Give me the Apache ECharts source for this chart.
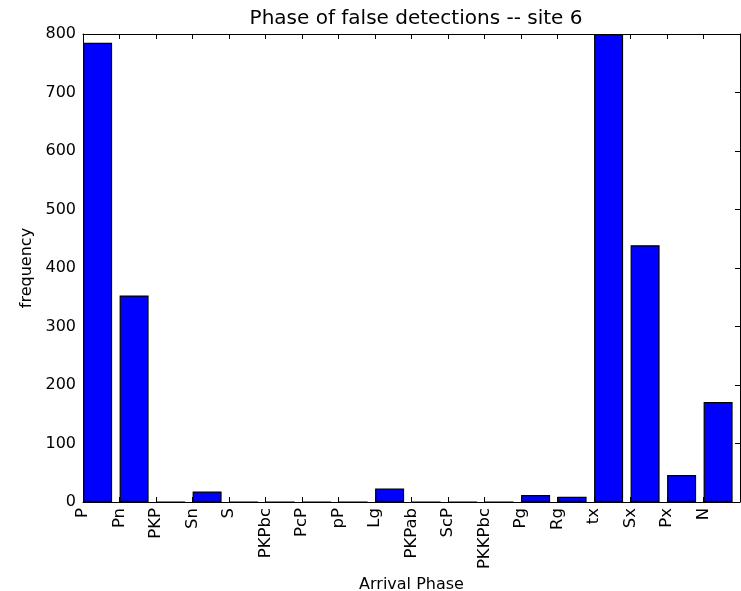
<!DOCTYPE html>
<html>
<head>
<meta charset="utf-8">
<script src="https://cdn.jsdelivr.net/npm/echarts@6/dist/echarts.min.js"></script>
<style>
  html, body { margin: 0; padding: 0; background: #fff; }
  #chart { width: 741px; height: 591px; }
</style>
</head>
<body>
<div id="chart"></div>
<script>
// Arrival phases and how often each was a false detection at site 6
const phases = ['P', 'Pn', 'PKP', 'Sn', 'S', 'PKPbc', 'PcP', 'pP', 'Lg', 'PKPab',
                'ScP', 'PKKPbc', 'Pg', 'Rg', 'tx', 'Sx', 'Px', 'N'];
const counts = [785, 353, 0, 18, 0, 0, 0, 0, 23, 0,
                0, 0, 12, 9, 800, 439, 46, 171];
const yTicks = [0, 100, 200, 300, 400, 500, 600, 700, 800];

// bars sit on [i, i + 0.8], the tick marks the left edge
const barData = counts.map((v, i) => [i + 0.4, v]);

const font = 'DejaVu Sans';
const chart = echarts.init(document.getElementById('chart'));

const frameLine = { show: true, onZero: false, lineStyle: { color: '#000', width: 1 } };
const inTicks = { show: true, inside: true, length: 5, lineStyle: { color: '#000' } };

chart.setOption({
  animation: false,
  title: {
    text: 'Phase of false detections -- site 6',
    left: 411, top: 4, textAlign: 'center',
    textStyle: { fontFamily: font, fontSize: 20, fontWeight: 'normal', color: '#000' }
  },
  grid: {
    left: 83, right: 1, top: 34, bottom: 89,
    containLabel: false, outerBoundsMode: 'none'
  },
  xAxis: [{
    type: 'value', min: 0, max: phases.length, interval: 1,
    position: 'bottom',
    axisLine: frameLine, axisTick: inTicks, splitLine: { show: false },
    axisLabel: {
      rotate: 90, margin: 6, fontFamily: font, fontSize: 16.5, color: '#000',
      formatter: v => phases[v] !== undefined ? phases[v] : ''
    },
    name: 'Arrival Phase', nameLocation: 'middle', nameGap: 73,
    nameTextStyle: { fontFamily: font, fontSize: 16, color: '#000' }
  }, {
    type: 'value', min: 0, max: phases.length, interval: 1,
    position: 'top',
    axisLine: frameLine, axisTick: inTicks, axisLabel: { show: false },
    splitLine: { show: false }
  }],
  yAxis: [{
    type: 'value', min: yTicks[0], max: yTicks[yTicks.length - 1], interval: 100,
    position: 'left',
    axisLine: frameLine, axisTick: inTicks, splitLine: { show: false },
    axisLabel: { margin: 7, fontFamily: font, fontSize: 16, color: '#000' },
    name: 'frequency', nameLocation: 'middle', nameGap: 41,
    nameTextStyle: { fontFamily: font, fontSize: 16, color: '#000' }
  }, {
    type: 'value', min: yTicks[0], max: yTicks[yTicks.length - 1], interval: 100,
    position: 'right',
    axisLine: frameLine, axisTick: inTicks, axisLabel: { show: false },
    splitLine: { show: false }
  }],
  series: [{
    type: 'bar',
    xAxisIndex: 0, yAxisIndex: 0,
    data: barData,
    barWidth: 29,
    clip: true,
    itemStyle: { color: '#0000ff', borderColor: '#000', borderWidth: 1.2 }
  }]
});
</script>
</body>
</html>
